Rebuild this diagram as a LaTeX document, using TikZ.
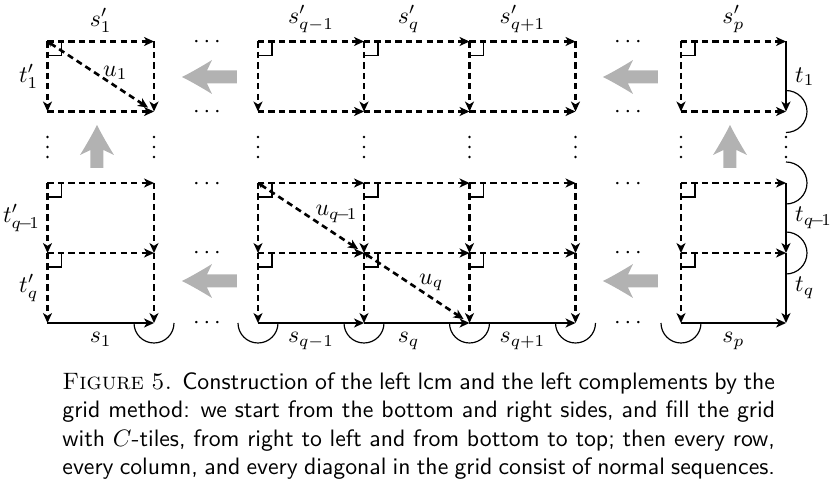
\documentclass[tikz,border=0pt]{standalone}
\usetikzlibrary{arrows.meta}
\begin{document}
\begin{tikzpicture}[x=0.421pt,y=-0.421pt,
  edgeS/.style={line width=1.1pt,-{Stealth[length=4.2pt,width=3.8pt,inset=1.2pt]}},
  edgeD/.style={edgeS,dash pattern=on 2.6pt off 1.8pt},
  diagE/.style={line width=1.1pt,dash pattern=on 2.6pt off 1.8pt,
     {Stealth[length=2.4pt,width=2.4pt,inset=0.8pt]}-{Stealth[length=4.2pt,width=3.8pt,inset=1.2pt]},shorten >=3pt},
  ulabel/.style={anchor=south west,inner sep=0.5pt,yshift=-2.4pt},
  rmark/.style={line width=0.5pt},
  hookarc/.style={line width=0.5pt},
  grayarr/.style={fill=black!30,draw=none},
  dotsnode/.style={inner sep=0pt,anchor=base},
  vdot/.style={circle,fill=black,inner sep=0pt,minimum size=1.1pt}]
\useasboundingbox (0,0) rectangle (836,493);
% grid points
\foreach \i/\x in {1/47.5,2/154,3/258,4/364,5/469.5,6/575.5,7/681,8/786}
  \foreach \j/\y in {1/41.5,2/111.5,3/183,4/253,5/323}
    \coordinate (p\i\j) at (\x,\y);
% right-angle marks
\foreach \i in {1,3,4,5,7}
  \foreach \j in {1,3,4}
    \draw[rmark] (p\i\j) ++(0,14) -- ++(14,0) -- ++(0,-14);
% top row with labels
\draw[edgeD] (p11) -- (p21) node[midway,above] (ls1) {$s'_1$};
\draw[edgeD] (p31) -- (p41) node[midway,above] (lsq1) {$s'_{q-1}$};
\draw[edgeD] (p41) -- (p51) node[midway,above,xshift=-3.4pt] (lsq) {$s'_q$};
\draw[edgeD] (p51) -- (p61) node[midway,above] (lsqp) {$s'_{q+1}$};
\draw[edgeD] (p71) -- (p81) node[midway,above] (lsp) {$s'_p$};
% inner rows
\foreach \j in {2,3,4}
  \foreach \a/\b in {1/2,3/4,4/5,5/6,7/8}
    \draw[edgeD] (p\a\j) -- (p\b\j);
% bottom row, solid
\draw[edgeS] (p15) -- (p25) node[midway,below] (bs1) {$s_1$};
\draw[edgeS] (p35) -- (p45) node[midway,below] (bsq1) {$s_{q-1}$};
\draw[edgeS] (p45) -- (p55) node[midway,below,xshift=-3.4pt] (bsq) {$s_q$};
\draw[edgeS] (p55) -- (p65) node[midway,below] (bsqp) {$s_{q+1}$};
\draw[edgeS] (p75) -- (p85) node[midway,below] (bsp) {$s_p$};
% vertical dashed edges
\draw[edgeD] (p11) -- (p12) node[midway,left] (lt1) {$t'_1$};
\draw[edgeD] (p13) -- (p14) node[midway,left,inner sep=2.6pt] (ltq1) {$t'_{q\!-\!1}$};
\draw[edgeD] (p14) -- (p15) node[midway,left] (ltq) {$t'_q$};
\foreach \i in {2,...,7}{
  \draw[edgeD] (p\i1) -- (p\i2);
  \draw[edgeD] (p\i3) -- (p\i4);
  \draw[edgeD] (p\i4) -- (p\i5);
}
% right column, solid
\draw[edgeS] (p81) -- (p82) node[midway,right] (rt1) {$t_1$};
\draw[edgeS] (p83) -- (p84) node[midway,right] (rtq1) {$t_{q\!-\!1}$};
\draw[edgeS] (p84) -- (p85) node[midway,right] (rtq) {$t_q$};
% diagonals
\draw[diagE] (p11) -- (p22) node[pos=0.5,ulabel] (u1) {$u_1$};
\draw[diagE] (p33) -- (p44) node[pos=0.52,ulabel] (uq1) {$u_{q\!-\!1}$};
\draw[diagE] (p44) -- (p55) node[pos=0.5,ulabel] (uq) {$u_q$};
% half circles
\foreach \i in {2,...,7}
  \draw[hookarc] (p\i5) ++(-20,0) arc[start angle=180,end angle=0,radius=20];
\foreach \j in {2,3,4}
  \draw[hookarc] (p8\j) ++(0,-21) arc[start angle=-90,end angle=90,radius=21];
% horizontal dots
\foreach \j/\y in {1/41.5,2/111.5,3/183,4/253,5/323}{
  \node[dotsnode] (hdl\j) at (207,\y+6) {$\cdots$};
  \node[dotsnode] (hdr\j) at (628,\y+6) {$\cdots$};
}
% vertical dots
\foreach \i/\x in {1/47.5,2/154,3/258,4/364,5/469.5,6/575.5,7/681,8/786}
  \foreach \k/\y in {1/137,2/147,3/157}
    \node[vdot] (vd\i\k) at (\x,\y) {};
% gray arrows (left)
\foreach \xx/\yy in {182/77,603/77,182/281,603/281}
  \fill[grayarr,shift={(\xx,\yy)}] (0,0) .. controls (10,-5) and (22,-12) .. (30,-17)
     .. controls (27,-12) .. (25,-6.5) -- (55,-6.5) -- (55,6.5) -- (25,6.5)
     .. controls (27,12) .. (30,17) .. controls (22,12) and (10,5) .. (0,0) -- cycle;
% gray arrows (up)
\foreach \xx/\yy in {97/125,730/125}
  \fill[grayarr,shift={(\xx,\yy)}] (0,0) .. controls (-5,10) and (-12,22) .. (-17,30)
     .. controls (-12,27) .. (-6.5,25) -- (-6.5,43) -- (6.5,43) -- (6.5,25)
     .. controls (12,27) .. (17,30) .. controls (12,22) and (5,10) .. (0,0) -- cycle;
% caption
\node[anchor=north west,inner sep=0pt,text width=300pt,align=justify,font=\sffamily] (caption) at (62,372)
 {{\rmfamily\textsc{Figure 5.}} Construction of the left lcm and the left complements by the\linebreak
 grid method: we start from the bottom and right sides, and fill the grid\linebreak
 with $C$-tiles, from right to left and from bottom to top; then every row,\linebreak
 every column, and every diagonal in the grid consist of normal sequences.};
\end{tikzpicture}
\end{document}
